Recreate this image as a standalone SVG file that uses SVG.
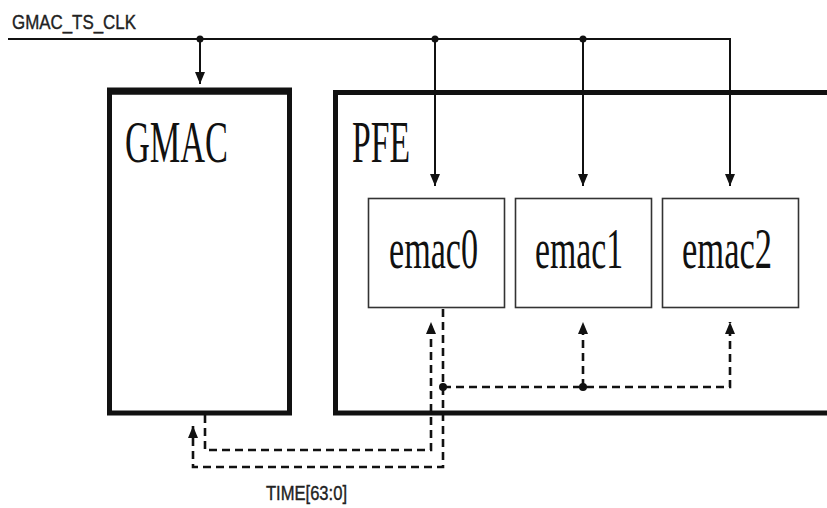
<svg xmlns="http://www.w3.org/2000/svg" width="827" height="508" viewBox="0 0 827 508">
  <defs>
    <marker id="up" markerUnits="userSpaceOnUse" markerWidth="10" markerHeight="12" refX="5" refY="0" orient="0" viewBox="0 0 10 12">
      <path d="M0,12 L10,12 L5,0 Z" fill="#111"/>
    </marker>
    <marker id="down" markerUnits="userSpaceOnUse" markerWidth="10" markerHeight="12" refX="5" refY="12" orient="0" viewBox="0 0 10 12">
      <path d="M0,0 L10,0 L5,12 Z" fill="#111"/>
    </marker>
  </defs>
  <style>
    .box { fill: #fff; stroke: #111; }
    .thick { stroke-width: 5; }
    .thin { stroke-width: 1.6; stroke: #333; }
    .clk { fill: none; stroke: #111; stroke-width: 2; }
    .dash { fill: none; stroke: #111; stroke-width: 2.6; stroke-dasharray: 8 5; }
    .dot { fill: #111; }
    .serif { font-family: "Liberation Serif", "Times New Roman", serif; fill: #111; }
    .sans { font-family: "Liberation Sans", Arial, sans-serif; fill: #222; stroke: #222; stroke-width: 0.4; }
  </style>
  <rect width="827" height="508" fill="#fff"/>

  <text class="sans" x="12" y="29" font-size="21" textLength="124" lengthAdjust="spacingAndGlyphs">GMAC_TS_CLK</text>

  <g id="gmac">
    <rect class="box thick" x="109.5" y="92" width="180" height="321"/>
    <line x1="107" y1="91" x2="292" y2="91" stroke="#111" stroke-width="7"/>
    <text class="serif" x="125" y="162" font-size="59" textLength="103" lengthAdjust="spacingAndGlyphs">GMAC</text>
  </g>

  <g id="pfe">
    <rect class="box thick" x="335.5" y="92.5" width="520" height="320.5"/>
    <text class="serif" x="352" y="162" font-size="59" textLength="58" lengthAdjust="spacingAndGlyphs">PFE</text>
  </g>

  <g id="emac0">
    <rect class="box thin" x="368.5" y="198.5" width="136" height="109"/>
    <text class="serif" x="389" y="268" font-size="56" textLength="89" lengthAdjust="spacingAndGlyphs">emac0</text>
  </g>
  <g id="emac1">
    <rect class="box thin" x="515.5" y="198.5" width="136" height="109"/>
    <text class="serif" x="535" y="268" font-size="56" textLength="88" lengthAdjust="spacingAndGlyphs">emac1</text>
  </g>
  <g id="emac2">
    <rect class="box thin" x="662.5" y="198.5" width="136" height="109"/>
    <text class="serif" x="682" y="268" font-size="56" textLength="90" lengthAdjust="spacingAndGlyphs">emac2</text>
  </g>

  <g id="connectors">
    <path class="clk" d="M8,39 H730 V186" marker-end="url(#down)"/>
    <line class="clk" x1="200" y1="39" x2="200" y2="84" marker-end="url(#down)"/>
    <line class="clk" x1="435" y1="39" x2="435" y2="186" marker-end="url(#down)"/>
    <line class="clk" x1="583" y1="39" x2="583" y2="186" marker-end="url(#down)"/>
    <circle class="dot" cx="200" cy="39" r="3.5"/>
    <circle class="dot" cx="435" cy="39" r="3.5"/>
    <circle class="dot" cx="583" cy="39" r="3.5"/>

    <path class="dash" d="M205,415 V450 H431 V322" marker-end="url(#up)"/>
    <path class="dash" d="M443,309 V467 H193 V426" marker-end="url(#up)"/>
    <path class="dash" d="M443,387 H730 V322" marker-end="url(#up)"/>
    <line class="dash" x1="583" y1="387" x2="583" y2="322" marker-end="url(#up)"/>
    <circle class="dot" cx="443" cy="387" r="4"/>
    <circle class="dot" cx="583" cy="387" r="4"/>
  </g>

  <text class="sans" x="266" y="500" font-size="21" textLength="81" lengthAdjust="spacingAndGlyphs">TIME[63:0]</text>
</svg>
